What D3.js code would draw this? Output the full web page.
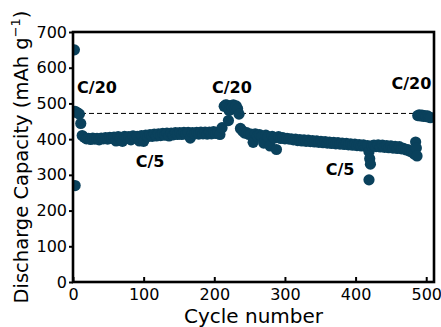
<!DOCTYPE html>
<html><head><meta charset="utf-8">
<script src="https://cdn.jsdelivr.net/npm/d3@7"></script>
<style>body{margin:0;background:#fff}svg{display:block}</style>
</head><body>
<svg id="c" width="441" height="327"></svg>
<script>
// ---- data ----
const cycles = [2,3, 3,5,7,9,11,
13,16,19,22,25,28,31,34,37,40,43,46,49,52,55,58,61,64,67,70,73,76,79,82,85,88,91,94,97,100,
103,106,109,112,115,118,121,124,127,130,133,136,139,142,145,148,151,154,157,160,163,166,169,172,175,178,181,184,187,190,193,196,199,202,205,208,211,
214,216,218,220,221,223,225,227,229,231,233,235,
237,240,243,246,249,252,255,258,261,264,267,270,273,276,279,282,285,288,291,294,297,300,303,306,309,312,315,318,321,324,327,330,333,336,339,342,345,348,351,354,357,360,363,366,369,372,375,378,381,384,387,390,393,396,399,402,405,408,411,414,417,
419,420,421,419,
423,426,429,432,435,438,441,444,447,450,453,456,459,462,465,468,471,474,477,480,483,485,486,487,
488,490,492,494,496,498,500,502,504,506];
const capacity = [650,270, 478,475,473,470,444,
410,405,401,402,399,403,400,402,398,403,401,404,400,405,402,406,395,407,403,394,408,404,407,398,409,405,408,395,410,394,
411,407,413,408,414,409,415,410,416,411,417,409,417,412,418,413,418,413,419,414,419,403,418,415,419,414,420,415,420,414,420,415,421,416,420,413,432,
492,496,495,452,480,494,490,496,488,493,485,470,
430,423,417,418,413,414,391,415,408,413,407,389,411,406,381,408,403,371,407,402,404,401,402,400,401,398,400,396,399,395,398,394,397,393,396,392,395,391,394,390,393,389,392,388,391,387,390,386,389,385,388,384,387,383,386,382,385,381,384,380,382,
365,345,330,286,
381,383,379,384,378,383,377,382,376,381,375,380,374,379,373,374,370,371,366,364,358,392,375,353,
466,468,465,467,464,466,463,465,462,460];
const xTicks = [0,100,200,300,400,500];
const yTicks = [0,100,200,300,400,500,600,700];
const refLevel = 472;
const rateLabels = ["C/20","C/5","C/20","C/5","C/20"];
const rateCycle  = [34,109,225,378,479];
const rateValue  = [543,336,543,311,554];

// ---- drawing ----
const svg = d3.select("#c");
const x = d3.scaleLinear().domain([0,511]).range([73,434]);
const y = d3.scaleLinear().domain([0,700]).range([282,32]);
const FONT = "'DejaVu Sans', sans-serif";
const col = "#0a415c";

svg.append("clipPath").attr("id","clip").append("rect")
  .attr("x",x(0)).attr("y",y(700)).attr("width",x(511)-x(0)).attr("height",y(0)-y(700));

// dashed reference line
svg.append("line")
  .attr("x1",x(0)).attr("x2",x(511)).attr("y1",y(refLevel)).attr("y2",y(refLevel))
  .attr("stroke","#000").attr("stroke-width",1).attr("stroke-dasharray","5,3");

// points
const pts = cycles.map((c,i)=>({c, v:capacity[i]}));
svg.append("g").attr("clip-path","url(#clip)")
  .selectAll("circle").data(pts).join("circle")
  .attr("cx",d=>x(d.c)).attr("cy",d=>y(d.v)).attr("r",5.6).attr("fill",col);

// axes
const gx = svg.append("g").attr("transform",`translate(0,${y(0)})`)
  .call(d3.axisBottom(x).tickValues(xTicks).tickSize(-5).tickPadding(8).tickFormat(d3.format("d")));
const gy = svg.append("g").attr("transform",`translate(${x(0)},0)`)
  .call(d3.axisLeft(y).tickValues(yTicks).tickSize(4).tickPadding(2).tickFormat(d3.format("d")));
[gx,gy].forEach(g=>{
  g.select(".domain").remove();
  g.selectAll(".tick line").attr("stroke","#000").attr("stroke-width",2);
  g.selectAll(".tick text").attr("font-family",FONT).attr("font-size",16).attr("fill","#000");
});
gx.selectAll(".tick text").attr("dy","0.6em");

// frame
svg.append("rect").attr("x",x(0)).attr("y",y(700))
  .attr("width",x(511)-x(0)).attr("height",y(0)-y(700))
  .attr("fill","none").attr("stroke","#000").attr("stroke-width",2.6);

// rate labels
svg.append("g").selectAll("text").data(rateLabels).join("text")
  .attr("x",(d,i)=>x(rateCycle[i])).attr("y",(d,i)=>y(rateValue[i]))
  .attr("text-anchor","middle").attr("dominant-baseline","middle")
  .attr("font-family",FONT).attr("font-weight","bold").attr("font-size",16)
  .text(d=>d);

// axis titles
svg.append("text").attr("x",(x(0)+x(511))/2).attr("y",323)
  .attr("text-anchor","middle").attr("font-family",FONT).attr("font-size",20)
  .text("Cycle number");
const yt = svg.append("text")
  .attr("transform",`translate(28,${(y(0)+y(700))/2}) rotate(-90)`)
  .attr("text-anchor","middle").attr("font-family",FONT).attr("font-size",19.5);
yt.append("tspan").text("Discharge Capacity (mAh g");
yt.append("tspan").attr("font-size",13).attr("dy",-8).text("\u22121");
yt.append("tspan").attr("dy",8).text(")");
</script>
</body></html>
